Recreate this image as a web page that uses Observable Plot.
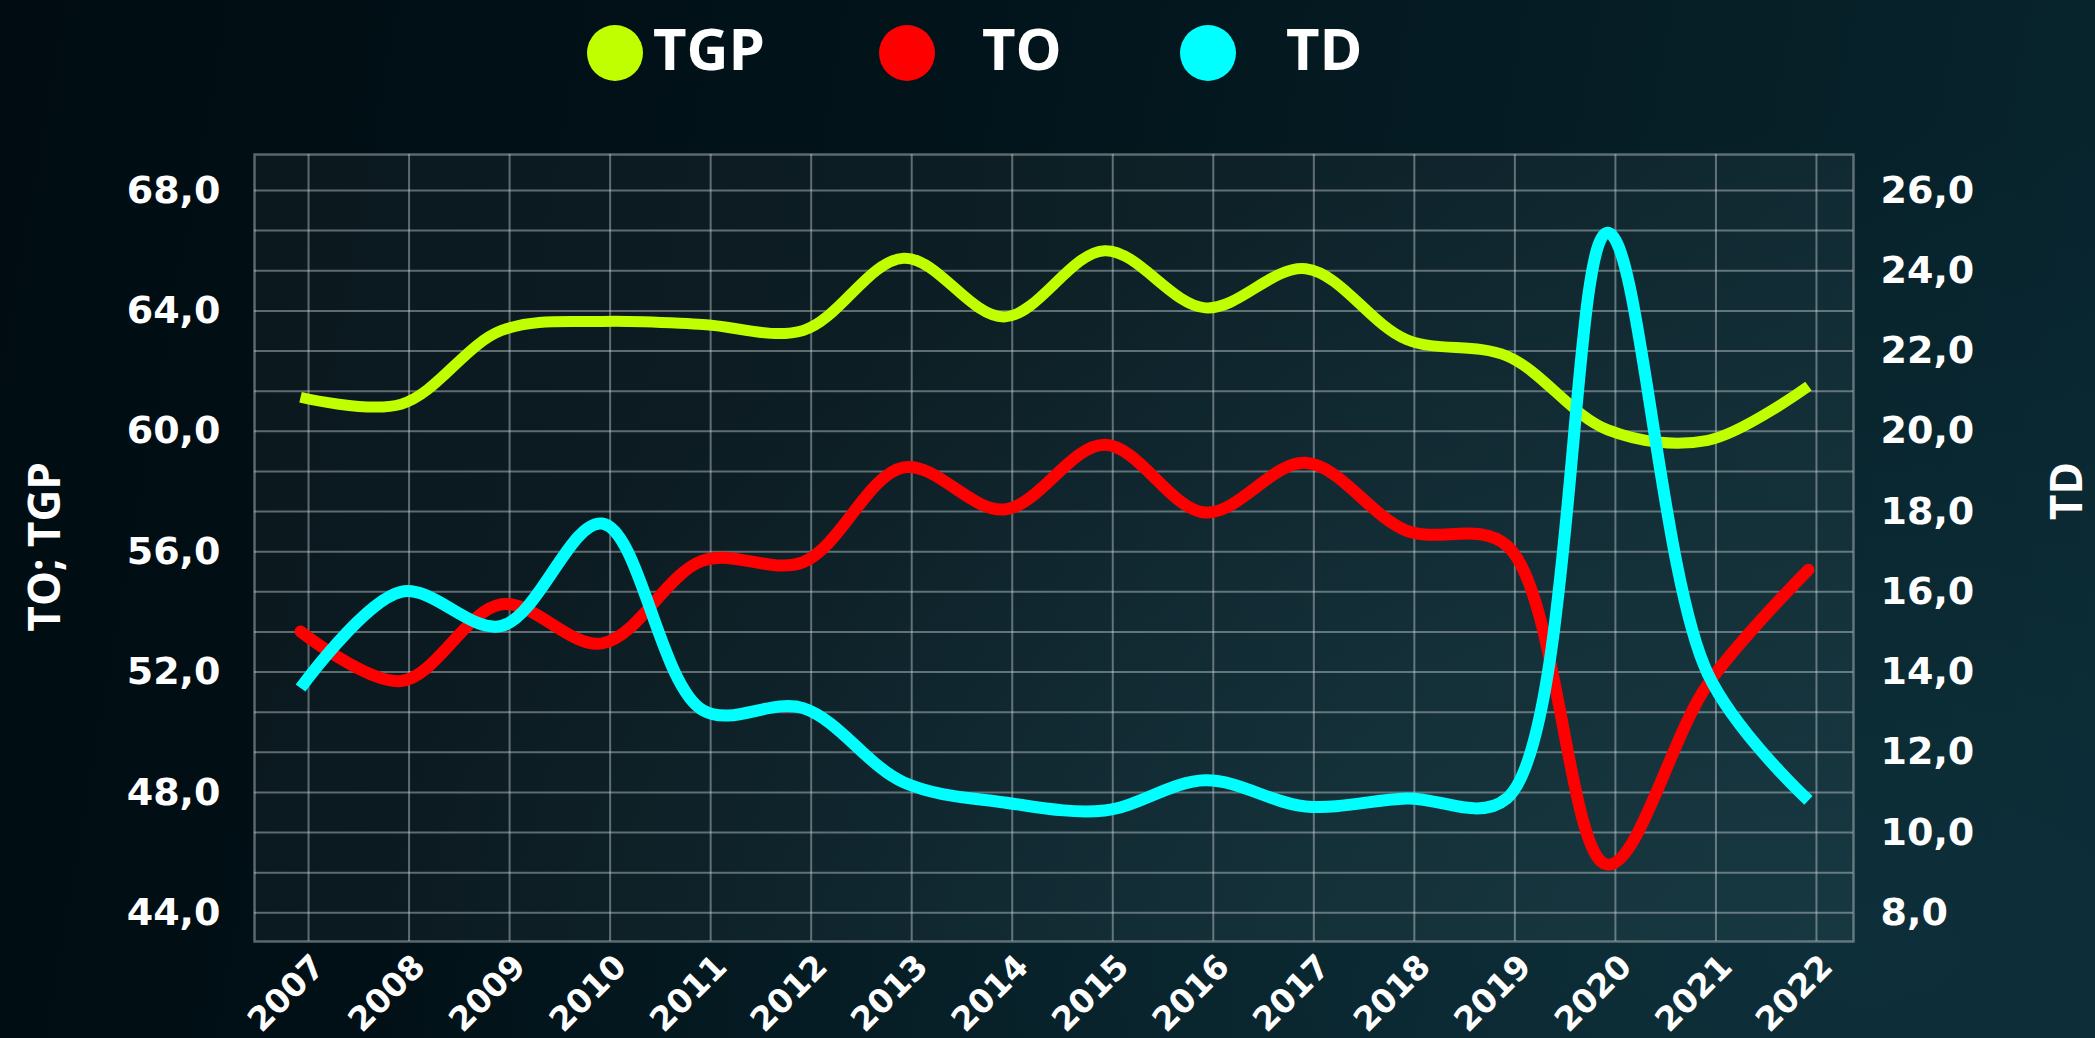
<!DOCTYPE html>
<html>
<head>
<meta charset="utf-8">
<script src="https://cdn.jsdelivr.net/npm/d3@7"></script>
<script src="https://cdn.jsdelivr.net/npm/@observablehq/plot@0.6"></script>
<style>
  html, body { margin: 0; padding: 0; width: 2095px; height: 1038px; overflow: hidden; }
  body {
    background:
      radial-gradient(ellipse 70% 80% at 88% 92%, rgba(14,48,58,0.95) 0%, rgba(14,48,58,0) 100%),
      linear-gradient(100deg, #000c12 0%, #02131a 40%, #061e26 75%, #082630 100%);
    font-family: "Open Sans", sans-serif;
  }
  #legend { position: relative; width: 2095px; height: 110px; }
  .sw { position: absolute; top: 25px; width: 56px; height: 56px; border-radius: 50%; }
  .lb { position: absolute; top: 20px; height: 56px; line-height: 56px; font-size: 58px; font-weight: 700; color: #ffffff; }
  #chart svg { display: block; }
</style>
</head>
<body>
<div id="legend"></div>
<div id="chart"></div>
<script>
// ---- data ----
const years = [2007, 2008, 2009, 2010, 2011, 2012, 2013, 2014, 2015, 2016, 2017, 2018, 2019, 2020, 2021, 2022];
const tgp = [61.13, 60.9, 63.35, 63.65, 63.55, 63.35, 65.75, 63.8, 66.0, 64.1, 65.4, 63.05, 62.5, 60.05, 59.7, 61.5];
const to  = [53.35, 51.7, 54.25, 52.95, 55.7, 55.65, 58.8, 57.4, 59.55, 57.3, 58.95, 56.7, 56.2, 45.6, 51.6, 55.4];
const td  = [13.6, 16.0, 15.15, 17.7, 13.05, 13.1, 11.25, 10.75, 10.55, 11.3, 10.65, 10.85, 10.85, 24.95, 13.95, 10.8];
const seriesNames = ["TGP", "TO", "TD"];
const seriesColors = ["#c0ff00", "#ff0000", "#00ffff"];
const leftTicks = [44, 48, 52, 56, 60, 64, 68];
const rightTicks = [8, 10, 12, 14, 16, 18, 20, 22, 24, 26];
const rightGrid = [8, 9, 10, 11, 12, 13, 14, 15, 16, 17, 18, 19, 20, 21, 22, 23, 24, 25, 26];
const leftTitle = "TO; TGP";
const rightTitle = "TD";

// ---- dual axis mapping: TD (8..26) onto left scale (44..68) ----
const toLeft = v => 44 + (v - 8) * 24 / 18;
const fromLeft = v => 8 + (v - 44) * 18 / 24;
const fmt = v => v.toFixed(1).replace(".", ",");

// ---- legend (HTML, above the SVG) ----
const legend = document.getElementById("legend");
const legendItems = [
  {name: seriesNames[0], color: seriesColors[0], sw: 587, lb: 653},
  {name: seriesNames[1], color: seriesColors[1], sw: 879, lb: 982},
  {name: seriesNames[2], color: seriesColors[2], sw: 1180, lb: 1286}
];
for (const it of legendItems) {
  const s = document.createElement("div");
  s.className = "sw"; s.style.left = it.sw + "px"; s.style.background = it.color;
  const l = document.createElement("div");
  l.className = "lb"; l.style.left = it.lb + "px"; l.textContent = it.name;
  legend.appendChild(s); legend.appendChild(l);
}

// ---- table ----
const rows = [];
years.forEach((y, i) => {
  rows.push({year: y, series: "TGP", v: tgp[i]});
  rows.push({year: y, series: "TO", v: to[i]});
  rows.push({year: y, series: "TD", v: toLeft(td[i])});
});

const gridStyle = {stroke: "#d5dcdf", strokeOpacity: 0.42, strokeWidth: 2};
const tickFont = {fill: "#ffffff", fontSize: 38, fontWeight: 700, fontFamily: "DejaVu Sans"};

const chart = Plot.plot({
  width: 2095,
  height: 928,
  marginLeft: 254,
  marginRight: 242,
  marginTop: 44,
  marginBottom: 97,
  style: {background: "transparent", color: "#ffffff", fontFamily: "DejaVu Sans", overflow: "visible"},
  x: {domain: [2006.542, 2022.448], axis: null},
  y: {domain: [43.046, 69.196], axis: null},
  marks: [
    Plot.frame({fill: "#ffffff", fillOpacity: 0.045}),
    Plot.ruleY(rightGrid.map(toLeft), gridStyle),
    Plot.ruleX(years, {...gridStyle, dx: 8}),
    Plot.frame({stroke: "#c3ccd0", strokeOpacity: 0.45, strokeWidth: 2.5}),
    Plot.line(rows.filter(d => d.series === "TGP"), {x: "year", y: "v", stroke: seriesColors[0], strokeWidth: 11, curve: "catmull-rom", strokeLinecap: "butt"}),
    Plot.line(rows.filter(d => d.series === "TO"), {x: "year", y: "v", stroke: seriesColors[1], strokeWidth: 12, curve: "catmull-rom", strokeLinecap: "round"}),
    Plot.line(rows.filter(d => d.series === "TD"), {x: "year", y: "v", stroke: seriesColors[2], strokeWidth: 12, curve: "catmull-rom", strokeLinecap: "butt"}),
    Plot.axisY(leftTicks, {anchor: "left", tickSize: 0, tickPadding: 34, tickFormat: fmt, label: null, ...tickFont}),
    Plot.axisY(rightTicks.map(toLeft), {anchor: "right", tickSize: 0, tickPadding: 27, tickFormat: d => fmt(fromLeft(d)), label: null, ...tickFont}),
    Plot.text(years, {x: d => d, text: d => String(d), frameAnchor: "bottom", dy: 27, dx: 26, rotate: -45, textAnchor: "end", lineAnchor: "bottom", fill: "#ffffff", fontSize: 33, fontWeight: 700, fontFamily: "DejaVu Sans"}),
    Plot.text([leftTitle], {frameAnchor: "left", dx: -209, dy: -86, rotate: -90, textAnchor: "end", fill: "#ffffff", fontSize: 44, fontWeight: 700, fontFamily: "Open Sans"}),
    Plot.text([rightTitle], {frameAnchor: "right", dx: 214, dy: -86, rotate: -90, textAnchor: "end", fill: "#ffffff", fontSize: 44, fontWeight: 700, fontFamily: "Open Sans"})
  ]
});
document.getElementById("chart").appendChild(chart);
</script>
</body>
</html>
